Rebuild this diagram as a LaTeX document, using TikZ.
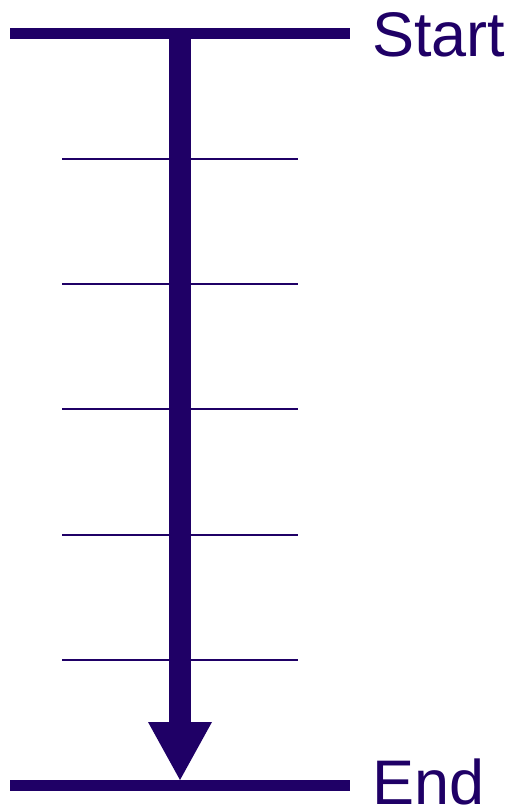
\documentclass[tikz,border=0pt]{standalone}
\usepackage{fontspec}
\setmainfont{Liberation Sans}
\usetikzlibrary{arrows.meta, positioning}
\definecolor{indigo}{RGB}{31,0,102}
\tikzset{
  bar/.style={
    draw=indigo,
    line width=11pt
  },
  tickline/.style={
    draw=indigo,
    line width=2pt
  },
  flow/.style={
    draw=indigo,
    line width=22pt,
    -{Triangle[length=58pt, width=64pt, line width=0pt]}
  },
  tag/.style={
    text=indigo,
    inner sep=0pt,
    anchor=base west,
    font=\fontsize{63}{63}\selectfont
  }
}
\begin{document}
\begin{tikzpicture}[x=1pt, y=-1pt]
  \useasboundingbox (0,0) rectangle (513,810);
  \coordinate (startL) at (10,33.5);
  \coordinate (startR) at (350,33.5);
  \coordinate (endL) at (10,785.5);
  \coordinate (endR) at (350,785.5);
  \coordinate (top) at (180,33.5);
  \coordinate (bottom) at (180,780);

  \node[tag] (start) at (372,57) {Start};
  \node[tag] (end) at (372,804) {End};

  \draw[bar] (startL) -- (startR);
  \draw[bar] (endL) -- (endR);
  \foreach \k in {1,...,5}
    \draw[tickline] (62,33.5+\k*125.3) -- (298,33.5+\k*125.3);
  \draw[flow] (top) -- (bottom);
\end{tikzpicture}
\end{document}
